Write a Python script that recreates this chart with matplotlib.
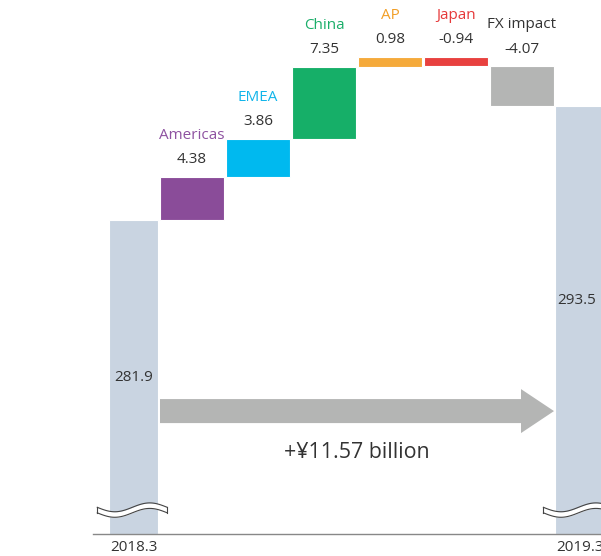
import numpy as np
import matplotlib
matplotlib.use("Agg")
import matplotlib.pyplot as plt
from matplotlib.patches import FancyArrow

plt.rcParams['font.family'] = ['Open Sans', 'DejaVu Sans']

# data
categories = ['Americas', 'EMEA', 'China', 'AP', 'Japan', 'FX impact']
changes = [4.38, 3.86, 7.35, 0.98, -0.94, -4.07]
change_labels = ['4.38', '3.86', '7.35', '0.98', '-0.94', '-4.07']
periods = ['2018.3', '2019.3']
totals = [281.9, 293.5]
total_labels = ['281.9', '293.5']
growth_label = '+¥11.57 billion'

bar_colors = ['#8A4C99', '#00B9EF', '#16AF68', '#F5AA3B', '#E8413F', '#B4B5B4']
text_colors = ['#8E52A1', '#12B5EA', '#1BAE6A', '#F29F26', '#E6393A', '#333333']
total_color = '#C9D4E1'
dark = '#333333'
fs = 11

# layout
delta_x = np.arange(1, len(categories) + 1)
delta_w = 0.97
total_x = [0.115, 6.875]
total_w = 0.74
y_bottom, y_top = 250.0, 304.26

fig = plt.figure(figsize=(6.01, 5.56), dpi=100)
ax = fig.add_axes([93 / 601, 22 / 556, 1 - 93 / 601, 534 / 556])
ax.set_xlim(-0.5, 7.197)
ax.set_ylim(y_bottom, y_top)

# total bars
for x, val in zip(total_x, totals):
    ax.bar(x, val - y_bottom, bottom=y_bottom, width=total_w,
           color=total_color, edgecolor='white', linewidth=0.8, zorder=2)

# waterfall bars
level = totals[0]
for i, (cat, d, lab) in enumerate(zip(categories, changes, change_labels)):
    lo = min(level, level + d)
    top = max(level, level + d)
    ax.bar(delta_x[i], abs(d), bottom=lo, width=delta_w,
           color=bar_colors[i], edgecolor='white', linewidth=0.8, zorder=2)
    ax.annotate(lab, (delta_x[i], top), xytext=(0, 7), textcoords='offset points',
                ha='center', va='bottom', fontsize=fs, color=dark)
    ax.annotate(cat, (delta_x[i], top), xytext=(0, 24.5), textcoords='offset points',
                ha='center', va='bottom', fontsize=fs, color=text_colors[i])
    level += d

# labels inside the totals
ax.text(total_x[0], 265.94, total_labels[0], ha='center', va='center',
        fontsize=fs, color=dark, zorder=4)
ax.text(total_x[1] - 0.34, 273.77, total_labels[1], ha='left', va='center',
        fontsize=fs, color=dark, zorder=4)

# growth arrow
x0 = total_x[0] + total_w / 2 + 0.03
x1 = total_x[1] - total_w / 2 - 0.02
ax.add_patch(FancyArrow(x0, 262.49, x1 - x0, 0, width=2.44, head_width=4.47,
                        head_length=0.5, length_includes_head=True,
                        color='#B4B5B4', linewidth=0, zorder=3))
ax.text((x0 + x1) / 2, 258.32, growth_label, ha='center', va='center',
        fontsize=15.4, color=dark)

# axis break marks
for x in total_x:
    t = np.linspace(0, 1, 120)
    xw = x - total_w / 2 - 0.18 + t * (total_w + 0.32)
    yw = 252.43 - 0.45 * np.sin(2 * np.pi * t)
    ax.fill_between(xw, yw - 0.28, yw + 0.28, color='white', zorder=5, linewidth=0)
    ax.plot(xw, yw - 0.28, color='#444444', lw=0.8, zorder=6)
    ax.plot(xw, yw + 0.28, color='#444444', lw=0.8, zorder=6)
    ax.plot([xw[0], xw[0]], [yw[0] - 0.28, yw[0] + 0.28], color='#444444', lw=0.8, zorder=6)
    ax.plot([xw[-1], xw[-1]], [yw[-1] - 0.28, yw[-1] + 0.28], color='#444444', lw=0.8, zorder=6)

for s in ['top', 'right', 'left']:
    ax.spines[s].set_visible(False)
ax.spines['bottom'].set_color('#888888')
ax.spines['bottom'].set_linewidth(1)
ax.set_yticks([])
ax.set_xticks(total_x)
ax.set_xticklabels(periods, fontsize=fs, color=dark)
ax.tick_params(axis='x', length=0, pad=4)

fig.savefig('out.png', dpi=100)
